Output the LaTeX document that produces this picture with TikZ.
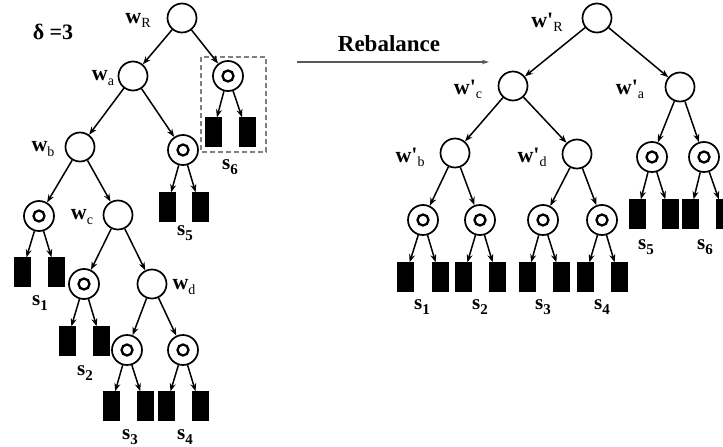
\documentclass[tikz,border=0pt]{standalone}
\usepackage{fontspec}
\setmainfont{Liberation Serif}
\usetikzlibrary{arrows.meta}
\newcommand\wlab[1]{\textbf{w}\raisebox{-0.4ex}{\fontsize{14}{14}\selectfont #1}}
\newcommand\wplab[1]{\textbf{w\textquotesingle}\raisebox{-0.4ex}{\fontsize{14}{14}\selectfont #1}}
\newcommand\slb[1]{\textbf{s}\raisebox{-0.5ex}{\fontsize{15}{15}\selectfont\bfseries #1}}
\begin{document}
\begin{tikzpicture}[x=1pt,y=-1pt,
  inode/.style={circle,draw,line width=1.7pt,minimum size=29pt,inner sep=0pt},
  dnode/.style={circle,draw,line width=1.7pt,minimum size=30pt,inner sep=0pt,
    path picture={\draw[line width=2.3pt] (path picture bounding box.center) circle (5.5pt);}},
  leaf/.style={rectangle,fill=black,draw=black,minimum width=16.5pt,minimum height=29pt,inner sep=0pt},
  lab/.style={font=\fontsize{22}{22}\selectfont,inner sep=0pt},
  slab/.style={font=\fontsize{21}{21}\selectfont,inner sep=0pt},
  edge/.style={line width=1.5pt,-{Stealth[length=8pt,width=6pt]}}]
\useasboundingbox (0,0) rectangle (723,447);
% left tree
\node[lab] (delta) at (53,32) {\textbf{δ =3}};
\node[inode] (R) at (182,18) {};
\node[lab] (lR) at (138,20) {\wlab{R}};
\node[inode] (a) at (133,76) {};
\node[lab] (la) at (103,78) {\wlab{a}};
\node[dnode] (d6) at (228,76) {};
\node[leaf] (l6a) at (213,132) {};
\node[leaf] (l6b) at (247,132) {};
\draw[gray,line width=1.3pt,dash pattern=on 5pt off 3pt] (201,57) rectangle (266,152);
\node[slab] (s6) at (230,167) {\slb{6}};
\node[inode] (b) at (80,147) {};
\node[lab] (lb) at (43,149) {\wlab{b}};
\node[dnode] (d5) at (183,150) {};
\node[leaf] (l5a) at (167,207) {};
\node[leaf] (l5b) at (200,207) {};
\node[slab] (s5) at (185,233) {\slb{5}};
\node[dnode] (d1) at (39,216) {};
\node[leaf] (l1a) at (22,272) {};
\node[leaf] (l1b) at (56,272) {};
\node[slab] (s1) at (40,303) {\slb{1}};
\node[inode] (c) at (118,215) {};
\node[lab] (lc) at (82,217) {\wlab{c}};
\node[dnode] (d2) at (84,284) {};
\node[leaf] (l2a) at (67,341) {};
\node[leaf] (l2b) at (101,341) {};
\node[slab] (s2) at (85,373) {\slb{2}};
\node[inode] (d) at (152,284) {};
\node[lab] (ld) at (184,287) {\wlab{d}};
\node[dnode] (d3) at (127,350) {};
\node[leaf] (l3a) at (111,406) {};
\node[leaf] (l3b) at (145,406) {};
\node[slab] (s3) at (130,437) {\slb{3}};
\node[dnode] (d4) at (183,350) {};
\node[leaf] (l4a) at (166,406) {};
\node[leaf] (l4b) at (200,406) {};
\node[slab] (s4) at (185,437) {\slb{4}};
\foreach \p/\q in {R/a,R/d6,d6/l6a,d6/l6b,a/b,a/d5,d5/l5a,d5/l5b,b/d1,b/c,d1/l1a,d1/l1b,
  c/d2,c/d,d2/l2a,d2/l2b,d/d3,d/d4,d3/l3a,d3/l3b,d4/l4a,d4/l4b}
  \draw[edge] (\p) -- (\q);
% rebalance arrow
\node[font=\fontsize{23}{23}\selectfont\bfseries,inner sep=0pt] (reb) at (389,44) {Rebalance};
\coordinate (ra) at (297,62);
\coordinate (rb) at (489,62);
\draw[gray!70!black,line width=1.1pt,-{Stealth[length=7pt,width=4.5pt]}] (ra) -- (rb);
% right tree
\node[inode] (R2) at (597,18) {};
\node[lab] (lR2) at (547,22) {\wplab{R}};
\node[inode] (c2) at (513,86) {};
\node[lab] (lc2) at (468,89) {\wplab{c}};
\node[inode] (a2) at (680,87) {};
\node[lab] (la2) at (630,89) {\wplab{a}};
\node[inode] (b2) at (455,153) {};
\node[lab] (lb2) at (410,157) {\wplab{b}};
\node[inode] (dd2) at (577,154) {};
\node[lab] (ld2) at (532,157) {\wplab{d}};
\node[dnode] (e1) at (423,220) {};
\node[dnode] (e2) at (480,220) {};
\node[dnode] (e3) at (543,220) {};
\node[dnode] (e4) at (602,220) {};
\node[dnode] (e5) at (652,157) {};
\node[dnode] (e6) at (704,157) {};
\node[leaf] (m1a) at (405,277) {};
\node[leaf] (m1b) at (440,277) {};
\node[leaf] (m2a) at (463,277) {};
\node[leaf] (m2b) at (497,277) {};
\node[leaf] (m3a) at (527,277) {};
\node[leaf] (m3b) at (561,277) {};
\node[leaf] (m4a) at (585,277) {};
\node[leaf] (m4b) at (619,277) {};
\node[leaf] (m5a) at (637,214) {};
\node[leaf] (m5b) at (670,214) {};
\node[leaf] (m6a) at (690,214) {};
\node[leaf] (m6b) at (724,214) {};
\node[slab] (t1) at (422,307) {\slb{1}};
\node[slab] (t2) at (480,307) {\slb{2}};
\node[slab] (t3) at (543,307) {\slb{3}};
\node[slab] (t4) at (602,307) {\slb{4}};
\node[slab] (t5) at (646,247) {\slb{5}};
\node[slab] (t6) at (705,247) {\slb{6}};
\foreach \p/\q in {R2/c2,R2/a2,c2/b2,c2/dd2,a2/e5,a2/e6,b2/e1,b2/e2,dd2/e3,dd2/e4,
  e1/m1a,e1/m1b,e2/m2a,e2/m2b,e3/m3a,e3/m3b,e4/m4a,e4/m4b,e5/m5a,e5/m5b,e6/m6a,e6/m6b}
  \draw[edge] (\p) -- (\q);
\end{tikzpicture}
\end{document}
